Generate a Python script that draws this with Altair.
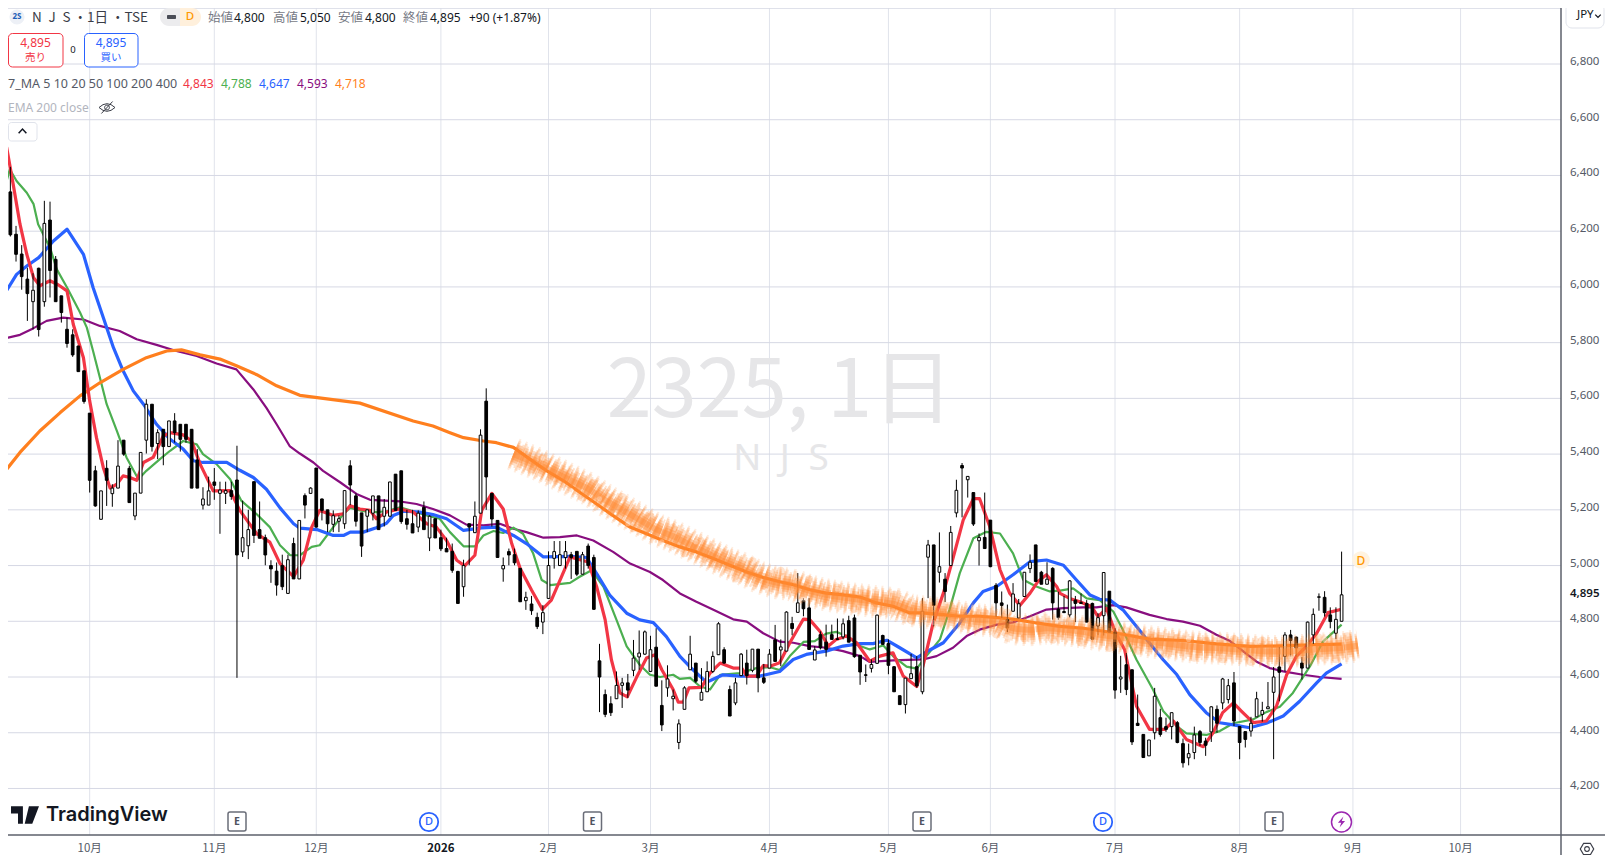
import altair as alt
import pandas as pd

# ---------- candles (bar 1 .. 237) ----------
highs = [6488,6431,6219,6150,6069,6049,6069,6309,6306,6111,
 5968,5890,5848,5788,5699,5547,5358,5268,5378,5292,
 5450,5450,5358,5260,5406,5597,5579,5489,5489,5519,
 5547,5507,5507,5489,5418,5281,5319,5350,5301,5301,
 5301,5430,5233,5200,5301,5230,5111,5019,5011,5039,
 5039,5100,5162,5259,5281,5350,5240,5200,5198,5180,
 5269,5378,5259,5189,5200,5250,5250,5239,5300,5328,
 5340,5200,5200,5198,5230,5180,5168,5129,5100,5079,
 4981,5021,5150,5230,5489,5636,5259,5162,5029,5061,
 5061,4990,4906,4891,4831,4858,5051,5088,5088,5088,
 5049,5051,5049,5079,5039,4719,4555,4531,4620,4597,
 4611,4733,4767,4767,4748,4775,4588,4642,4555,4448,
 4567,4748,4650,4632,4656,4692,4797,4707,4569,4597,
 4686,4698,4700,4700,4647,4700,4787,4735,4836,4816,
 4973,4883,4883,4711,4764,4788,4788,4810,4810,4820,
 4824,4678,4645,4663,4824,4752,4735,4639,4533,4596,
 4683,4675,4883,5092,5074,5119,4973,5142,5308,5368,
 5320,5262,5115,5262,5163,4937,4907,4860,4937,4880,
 4976,5040,5074,4981,5012,4994,4906,4891,4948,4891,
 4900,4876,4867,4829,4975,4908,4775,4676,4686,4626,
 4537,4394,4374,4561,4486,4454,4472,4442,4379,4361,
 4422,4410,4382,4495,4498,4597,4593,4618,4424,4404,
 4457,4547,4511,4582,4636,4707,4761,4769,4745,4672,
 4799,4846,4900,4908,4850,4850,5050]
body_tops = [6420,6341,6189,6118,6028,5988,6067,6228,6240,6099,
 5968,5848,5828,5788,5699,5547,5340,5268,5349,5278,
 5357,5450,5349,5260,5406,5579,5579,5477,5489,5519,
 5519,5507,5507,5489,5379,5239,5268,5300,5271,5269,
 5269,5307,5100,5129,5301,5129,5100,5000,4980,5000,
 5021,5079,5162,5251,5278,5350,5239,5200,5179,5168,
 5269,5358,5250,5189,5200,5250,5250,5209,5300,5328,
 5340,5168,5150,5188,5209,5177,5168,5100,5061,5051,
 4979,5000,5150,5177,5468,5590,5259,5162,5000,5050,
 5039,4990,4886,4862,4814,4831,5000,5050,5039,5050,
 5039,5051,5039,5070,5029,4658,4537,4504,4570,4579,
 4579,4668,4686,4762,4698,4707,4498,4593,4531,4432,
 4561,4682,4650,4545,4620,4674,4791,4698,4555,4579,
 4682,4650,4700,4700,4597,4682,4733,4708,4833,4792,
 4866,4874,4848,4697,4752,4725,4752,4737,4791,4802,
 4812,4678,4608,4645,4822,4749,4720,4637,4533,4596,
 4612,4637,4836,5074,5074,4996,4951,5119,5270,5359,
 5320,5262,5101,5101,5163,4929,4866,4806,4898,4863,
 4976,5012,5074,4976,4951,4990,4844,4835,4945,4876,
 4867,4864,4864,4813,4975,4908,4761,4600,4644,4626,
 4434,4394,4374,4531,4454,4422,4472,4436,4361,4325,
 4392,4404,4370,4493,4484,4593,4569,4579,4422,4404,
 4434,4522,4480,4493,4600,4636,4751,4751,4743,4650,
 4797,4825,4888,4886,4823,4807,4895]
body_bots = [6338,6187,6117,6037,5976,5947,5847,5947,6059,5947,
 5908,5797,5756,5696,5589,5306,5214,5166,5306,5258,
 5278,5400,5226,5178,5260,5450,5427,5438,5427,5427,
 5477,5453,5453,5278,5278,5217,5217,5288,5259,5259,
 5248,5038,5049,5071,5108,5098,5038,4988,4930,4924,
 4900,4952,4952,5217,5259,5138,5198,5150,5148,5159,
 5150,5289,5159,5070,5177,5188,5129,5177,5177,5198,
 5158,5148,5117,5138,5129,5099,5099,5060,5049,4983,
 4864,4924,5138,5118,5188,5318,5167,5029,4988,5038,
 5010,4870,4874,4838,4781,4797,4882,5026,5000,5029,
 5029,4969,4969,5000,4843,4600,4466,4472,4522,4570,
 4553,4624,4672,4682,4620,4567,4428,4561,4522,4365,
 4484,4626,4585,4517,4547,4620,4680,4650,4460,4507,
 4605,4605,4624,4597,4581,4632,4656,4697,4693,4774,
 4832,4845,4699,4661,4705,4699,4735,4735,4744,4725,
 4673,4618,4606,4631,4649,4717,4642,4547,4501,4501,
 4594,4568,4547,5030,4857,4976,4907,5000,5189,5350,
 5308,5149,5089,5061,4996,4866,4857,4776,4836,4812,
 4889,4989,4943,4933,4933,4866,4813,4831,4823,4864,
 4864,4797,4736,4783,4820,4761,4553,4593,4555,4367,
 4426,4311,4317,4400,4394,4412,4422,4365,4292,4310,
 4329,4365,4355,4403,4434,4507,4519,4442,4365,4376,
 4406,4457,4466,4486,4545,4617,4674,4731,4704,4632,
 4632,4751,4886,4831,4799,4757,4800]
lows = [6338,6181,6091,5990,5878,5848,5822,5929,5962,5947,
 5872,5782,5749,5696,5581,5262,5211,5166,5214,5211,
 5278,5394,5226,5163,5260,5402,5409,5382,5360,5427,
 5441,5409,5441,5278,5278,5201,5217,5236,5114,5221,
 5236,4597,5031,5023,5081,5098,5001,4938,4892,4912,
 4900,4952,4952,5169,5259,5136,5162,5120,5120,5120,
 5132,5217,5140,5031,5120,5162,5129,5140,5177,5198,
 5150,5129,5117,5120,5129,5052,5099,5052,5049,4974,
 4864,4888,5001,5118,5188,5200,5140,5029,4942,5001,
 5001,4870,4841,4823,4772,4754,4882,4989,5000,4989,
 4952,4962,4969,4989,4841,4474,4456,4460,4522,4489,
 4525,4603,4626,4680,4620,4567,4406,4529,4480,4341,
 4484,4626,4579,4517,4547,4614,4680,4648,4460,4499,
 4603,4573,4617,4545,4575,4632,4656,4639,4693,4750,
 4832,4818,4697,4661,4699,4673,4735,4735,4735,4725,
 4669,4572,4582,4616,4649,4717,4610,4547,4501,4469,
 4594,4562,4538,4883,4782,4939,4869,5000,5173,5173,
 5244,5142,5000,5061,4994,4816,4812,4761,4836,4810,
 4889,4973,4943,4933,4933,4806,4805,4831,4814,4797,
 4864,4797,4736,4751,4749,4761,4522,4543,4535,4356,
 4424,4311,4317,4376,4386,4403,4376,4362,4275,4283,
 4305,4353,4317,4367,4400,4484,4505,4424,4305,4347,
 4386,4457,4440,4486,4305,4513,4620,4674,4674,4591,
 4632,4719,4838,4817,4775,4736,4800]
hollow = [0,0,0,0,0,1,0,1,0,0, 0,0,0,0,0,0,0,1,0,1, 1,0,0,1,1,1,0,1,0,1,
 0,0,0,0,0,1,1,0,1,1, 0,0,1,1,0,0,0,0,0,0, 1,0,1,0,1,0,0,0,1,1,
 1,0,0,0,1,1,0,1,1,0, 0,0,0,1,0,1,0,0,0,0, 0,1,0,1,1,0,0,0,1,0,
 0,0,1,0,0,1,1,1,1,1, 0,0,1,0,0,0,0,0,1,1, 0,1,1,1,1,0,0,1,1,1,
 1,1,0,1,1,1,1,0,0,1, 1,0,1,0,0,1,0,1,1,0, 1,0,0,1,0,0,0,0,1,0,
 0,0,0,1,1,0,0,0,0,1, 1,0,1,1,0,1,0,1,1,0, 1,0,1,0,0,0,0,0,1,1,
 1,1,0,0,1,0,0,0,1,0, 0,0,0,1,1,0,0,1,0,0, 0,0,1,1,0,0,1,0,0,1,
 1,0,0,1,0,1,1,0,0,0, 1,1,1,1,1,0,1,0,0,0, 1,1,1,0,0,1,1]

# ---------- moving averages (bar position, price) ----------
ma5_bar = [0.2,1.35,2.5,3.7,4.9,6.1,7.2,9,10.5,12,13.1,14.9,16,17.2,18.4,19.6,20.8,21.9,23.1,24.3,25.5,27.2,29,30.2,32.5,34,35.5,37.8,40.8,42.5,45.5,47.8,49.6,52,53.7,55.2,56.6,59,60.8,62,63.7,65.5,66.6,68.4,70.8,73.1,75.5,77.2,79,80.8,82.2,84,85.2,87,89,90.5,92,94,95.9,97.5,99.3,100.8,104,105.5,107,108.1,109.6,110.9,112.5,114.3,115.8,117,119,119.9,120.8,121.8,124,125.5,127.3,129.6,131.1,132,133.7,134.9,136.1,137.8,139.6,142,143.1,144.9,146.4,147.8,149.6,151.4,153.7,155.5,157.8,159.6,162,163.1,164.9,166.7,168.4,170.2,172,173.1,174.9,176.7,178.4,180.2,182,183.4,184.9,186.7,187.3,189,190.8,192.9,194,195.5,197,198.7,200.8,203.1,205.8,207.3,209.6,212.6,214.3,216,217.9,219.3,221.4,223.7,225.5,227.3,229,230.8,232.6,234.6,237]
ma5_val = [6542,6500,6368,6225,6117,6033,6004,6022,6007,5986,5866,5746,5591,5459,5352,5278,5292,5322,5316,5306,5370,5388,5465,5477,5469,5447,5364,5268,5269,5198,5114,5084,5007,4960,5019,5138,5198,5180,5186,5215,5203,5198,5168,5192,5203,5192,5150,5138,5090,5019,4999,5037,5198,5259,5203,5079,4989,4912,4843,4876,4960,5031,5013,4924,4805,4662,4543,4529,4597,4668,4680,4626,4555,4510,4510,4561,4563,4614,4650,4632,4632,4603,4603,4641,4639,4651,4723,4808,4806,4764,4711,4735,4747,4723,4657,4675,4687,4604,4566,4639,4794,4901,5026,5163,5240,5240,5139,4985,4901,4857,4901,4943,4967,4925,4900,4882,4870,4852,4817,4846,4763,4698,4495,4412,4412,4442,4376,4350,4400,4472,4507,4478,4436,4442,4495,4608,4674,4710,4757,4831,4843]

ma10_bar = [0.2,1,1.9,3.1,4.9,6.1,6.9,9,10.2,12,14.3,15.5,16.6,17.8,19,20.8,22.5,24.6,26,28.4,30.2,32.5,34.9,36,38.4,40.8,42.8,45.5,47.8,49.6,51.4,53.1,55.2,56.6,59,60.8,62,64.3,66.6,68.4,70.8,73.1,75.5,77.8,79.6,82,84,85.5,87.3,89,90.8,92.5,94.3,95.8,97.3,100.8,102.5,104.6,106.7,109,110.8,113.1,114.9,116.7,119,120.2,122,123.7,125.5,127.3,130.8,133.7,136.1,137.8,139.6,142,144,146,147.8,149.6,152,153.7,156.1,157.8,160.2,162,163.7,166.1,167.8,169.6,172,174.3,176.7,179,180.8,183.1,185.5,187.3,189.6,192,194.3,196.7,198.4,200.8,203.7,205.5,207.9,209.6,213.1,215.5,217.9,221.4,223.7,226.1,228.4,231.4,233.7,237]
ma10_val = [6273,6356,6422,6380,6338,6297,6225,6141,6063,5998,5908,5854,5770,5675,5579,5483,5388,5310,5340,5382,5412,5447,5435,5400,5364,5310,5232,5184,5138,5073,5037,5037,5067,5073,5138,5186,5207,5195,5192,5195,5209,5195,5180,5168,5120,5069,5069,5108,5124,5117,5136,5114,5043,4948,4930,4938,4960,4983,4924,4805,4710,4644,4608,4600,4608,4593,4597,4567,4555,4608,4614,4632,4635,4625,4675,4726,4729,4756,4762,4747,4711,4699,4713,4675,4637,4630,4675,4735,4842,4973,5098,5121,5115,5044,4949,4925,4907,4910,4918,4882,4876,4835,4769,4662,4555,4478,4424,4398,4392,4406,4434,4448,4474,4493,4543,4638,4727,4788]

ma20_bar = [0.2,3.1,4.9,7,9.6,12,14.9,16.6,18.4,20.2,21.9,23.7,25.5,27.8,30.2,32.5,34.3,36,40.2,42.5,44.9,47.2,49.6,52,53.1,56.1,59,60.8,62,64.3,66.6,68.4,69.6,71.4,74.3,76.6,79,82,85.2,87.8,90.8,93.1,96.1,100.8,103.7,105.5,107.8,110.8,113.1,115.5,117.8,120.2,122.5,124.9,127.8,130.8,134.3,137.8,140.2,142.5,146,149,152,154.3,156.7,159,162,164.3,166.7,169.6,172,173.7,176.1,179,182,184.9,187.9,190.2,192.6,194.3,196.1,198.4,200.8,203.1,205.5,207.9,210.2,213.1,215.5,217.9,220.8,223.7,226.7,229.6,232.6,234.3,237]
ma20_val = [5950,6045,6075,6105,6165,6207,6117,5998,5890,5782,5699,5627,5579,5507,5453,5418,5376,5370,5370,5342,5316,5274,5207,5150,5134,5129,5108,5108,5120,5120,5136,5152,5180,5195,5192,5183,5168,5126,5135,5138,5108,5079,5031,5033,5029,4971,4894,4829,4805,4795,4745,4674,4626,4581,4608,4603,4603,4620,4663,4681,4693,4711,4720,4720,4732,4705,4669,4697,4723,4794,4866,4907,4925,4967,5014,5020,5001,4948,4894,4879,4876,4841,4781,4722,4662,4609,4537,4472,4436,4428,4418,4434,4460,4513,4579,4614,4647]

ma50_bar = [0.2,1.6,3.7,6.1,8.4,11.3,14.9,17.8,21.3,24.3,27.8,31.3,34.9,38.4,41.9,44.9,47.2,49,51.3,53.1,55.5,57.2,60.2,63.1,65.5,70.8,73.7,76.6,79.6,82.5,85.5,88.4,90.8,93.1,96.1,99,102,104.9,108.4,111.4,114.9,117.2,120.2,123.1,126.1,129.6,132,134.9,137.8,140.2,143.1,146,149,152,153.7,157.8,163.1,165.5,168.4,170.8,173.1,176.1,179,182,184.9,187.9,191.4,193.7,196.7,199,203.1,206.1,209,212,214.9,217.3,219.6,222,224.3,226.7,230.2,233.1,237]
ma50_val = [5806,5818,5828,5852,5878,5890,5883,5860,5842,5812,5792,5770,5752,5725,5704,5632,5566,5507,5429,5402,5370,5340,5299,5257,5236,5230,5221,5203,5180,5147,5144,5150,5132,5120,5100,5102,5108,5090,5049,5007,4977,4948,4900,4870,4841,4807,4799,4757,4727,4723,4711,4705,4693,4675,4654,4660,4663,4675,4705,4747,4770,4788,4796,4818,4842,4847,4850,4850,4858,4850,4823,4808,4799,4784,4752,4729,4693,4655,4632,4620,4608,4600,4593]

ma100_bar = [0.2,3.7,7.2,10.8,14.3,17.8,21.9,26,29.6,32.2,35.5,39,41.9,45.5,49,53.1,63.7,73.1,76.6,79.6,82,85.5,87.8,90.8,93.7,96.7,99.6,102.5,105.5,108.4,111.4,114.3,117.2,120.2,123.1,126.1,129,132,134.9,137.8,140.2,143.1,146,149,152,154.9,157.8,160.8,163.1,166.7,169.6,173.1,176.7,179.6,183.1,187.2,191.4,197.3,203.1,209,214.9,220.8,226.7,232.6,237]
ma100_val = [5316,5406,5483,5549,5609,5656,5704,5746,5770,5774,5756,5741,5717,5685,5645,5611,5583,5519,5501,5477,5459,5447,5441,5424,5382,5340,5305,5263,5221,5179,5138,5114,5090,5067,5049,5025,5001,4977,4957,4942,4931,4913,4901,4895,4887,4866,4854,4830,4830,4824,4818,4818,4812,4806,4794,4782,4775,4757,4736,4731,4719,4710,4712,4716,4718]

# ---------- brush stroke traced over the long average ----------
brush_bar = [90.8,92,95,98,101,104,107,110,113,116,119,122,125,128,131,134,137,140,143,146,149,152,155,158,161,164,167,170,173,176,179,182,185,188,191,194,197,200,203,206,209,212,215,218,221,224,227,230,233,236,239.9]
brush_val = [5400,5390,5365,5335,5305,5275,5235,5200,5165,5130,5105,5075,5045,5015,4990,4960,4940,4930,4910,4895,4885,4877,4870,4862,4840,4832,4825,4815,4805,4800,4775,4770,4775,4770,4763,4752,4745,4735,4727,4720,4712,4706,4704,4700,4696,4692,4692,4695,4700,4703,4712]
speck_bar = [92,94,96,98,100,103,105,108,110,112,115,117,119,121,124,126,128,130,133,135,138,141,143,146,148,151,153,156,158,161,163,166,168,171,174,176,178,181,183,186,189,191,194,196,199,201,204,206,208,211,213,216,218,221,223,226,228,231,233,236,238]
speck_val = [5415,5345,5385,5315,5325,5245,5295,5195,5245,5135,5175,5095,5135,5045,5085,5005,5045,4955,5015,4930,4980,4895,4950,4865,4920,4845,4900,4835,4895,4805,4860,4795,4855,4785,4830,4755,4830,4740,4805,4735,4800,4725,4780,4705,4765,4695,4745,4685,4740,4670,4730,4665,4735,4655,4730,4655,4725,4660,4740,4665,4745]
gap_bar = [96,101,106,111,117,123,129,134,142,148,154,160,165,172,178,187,193,199,205,210,216,222,228,234]
gap_val = [5385,5270,5240,5150,5085,5085,4975,4985,4880,4915,4850,4885,4795,4850,4745,4805,4715,4770,4690,4735,4675,4725,4670,4735]

# ---------- axes ----------
month_bars = [16,38,56,78,97,115,136,157,175,197,219,239,258]
month_names = ["10月","11月","12月","2026","2月","3月","4月","5月","6月","7月","8月","9月","10月"]
price_ticks = [4200,4400,4600,4800,5000,5200,5400,5600,5800,6000,6200,6400,6600,6800]
last_price = 4895

FONT = "Noto Sans, Noto Sans CJK JP, sans-serif"
JP = "Noto Sans CJK JP, Noto Sans, sans-serif"
W, H = 1553, 827

xs = alt.Scale(domain=[1.5825, 275.73], nice=False, zero=False, padding=0)
ys = alt.Scale(domain=[4033, 7001], nice=False, zero=False)

bars = pd.DataFrame({"n": list(range(1, len(highs) + 1)), "h": highs, "t": body_tops,
                     "b": body_bots, "l": lows, "up": hollow})
bars["fill"] = bars["up"].map({1: "#ffffff", 0: "#000000"})


def series(b, v):
    return pd.DataFrame({"n": b, "p": v})


X = alt.X("n:Q", scale=xs, axis=None)
Y = alt.Y("p:Q", scale=ys, axis=None)
one = alt.Data(values=[{"a": 1}])


def px(v):
    return alt.value(v - 8)


months = pd.DataFrame({"n": month_bars, "lab": month_names})
ticks = pd.DataFrame({"p": price_ticks + [7000],
                      "lab": [f"{v:,}" for v in price_ticks] + [""]})
grid_v = alt.Chart(months).mark_rule(color="#e0e3eb", strokeWidth=1).encode(x=X)
grid_h = alt.Chart(ticks).mark_rule(color="#d6d8e4", strokeWidth=1).encode(y=Y)
x_labels = alt.Chart(months[months.lab != "2026"]).mark_text(
    color="#555a66", fontSize=11.5, font=JP, baseline="middle").encode(x=X, y=px(849), text="lab:N")
x_year = alt.Chart(months[months.lab == "2026"]).mark_text(
    color="#131722", fontSize=11.5, fontWeight=600, font=JP, baseline="middle").encode(x=X, y=px(849), text="lab:N")
y_labels = alt.Chart(ticks).mark_text(
    color="#555a66", fontSize=11.5, font=FONT, align="left", baseline="middle", dy=-2).encode(
    x=px(1570), y=Y, text="lab:N")


def ma(b, v, color, w):
    return alt.Chart(series(b, v)).mark_line(color=color, strokeWidth=w, clip=True,
                                             strokeJoin="round").encode(x=X, y=Y)


lines = [ma(ma50_bar, ma50_val, "#880e7f", 2.2), ma(ma10_bar, ma10_val, "#4caf50", 2.2),
         ma(ma20_bar, ma20_val, "#2962ff", 3.2), ma(ma100_bar, ma100_val, "#ff7f1e", 3.2),
         ma(ma5_bar, ma5_val, "#f23645", 3.2)]

wicks = alt.Chart(bars).mark_rule(color="#000000", strokeWidth=1, clip=True).encode(
    x=X, y=alt.Y("h:Q", scale=ys, axis=None), y2="l:Q")
bodies = alt.Chart(bars).mark_bar(size=2.7, stroke="#000000", strokeWidth=1, clip=True).encode(
    x=X, y=alt.Y("t:Q", scale=ys, axis=None), y2="b:Q",
    fill=alt.Fill("fill:N", scale=None))

brush_df = series(brush_bar, brush_val)
brush = [alt.Chart(brush_df).mark_line(color="#ff8a33", strokeWidth=w, opacity=o, strokeCap="butt",
                                       strokeDash=d, interpolate="monotone").encode(x=X, y=Y)
         for w, o, d in [(33, 0.16, [2, 5]), (29, 0.20, [3, 4]), (25, 0.24, [2, 3]), (21, 0.28, [5, 3]),
                         (16, 0.34, [7, 3]), (11, 0.40, [11, 2]), (6, 0.45, [30, 1])]]
specks = alt.Chart(series(speck_bar, speck_val)).mark_circle(color="#ff8a33", opacity=0.22, size=75).encode(x=X, y=Y)
gaps = alt.Chart(series(gap_bar, gap_val)).mark_circle(color="#ffffff", opacity=0.30, size=26).encode(x=X, y=Y)


def txt(x, y, s, color="#131722", size=12, weight=400, align="left", font=FONT, opacity=1.0):
    return alt.Chart(one).mark_text(text=s, color=color, fontSize=size, fontWeight=weight, align=align,
                                    baseline="middle", font=font, opacity=opacity).encode(x=px(x), y=px(y))


def box(x0, x1, y0, y1, fill="#ffffff", stroke=None, r=0, sw=1, **kw):
    opts = dict(fill=fill, cornerRadius=r, **kw)
    if stroke:
        opts.update(stroke=stroke, strokeWidth=sw)
    return alt.Chart(one).mark_rect(**opts).encode(x=px(x0), x2=px(x1), y=px(y0), y2=px(y1))


def sym(x, y, path, size, fill=None, stroke=None, sw=1.2):
    opts = dict(shape=path, size=size, opacity=1)
    if fill:
        opts.update(filled=True, fill=fill)
        if stroke:
            opts.update(stroke=stroke, strokeWidth=sw)
        else:
            opts.update(strokeWidth=0)
    else:
        opts.update(filled=False, stroke=stroke, strokeWidth=sw)
    return alt.Chart(one).mark_point(**opts).encode(x=px(x), y=px(y))


def dot(x, y, size, fill=None, stroke=None, sw=1.5):
    return sym(x, y, "circle", size, fill=fill, stroke=stroke, sw=sw)


frame = [
    alt.Chart(one).mark_rule(color="#5d606b", strokeWidth=1.5).encode(x=alt.value(0), x2=alt.value(1605), y=px(835)),
    alt.Chart(one).mark_rule(color="#5d606b", strokeWidth=1.5).encode(x=px(1561), y=alt.value(0), y2=alt.value(847)),
]

watermark = [
    txt(780, 393, "2325, 1日", "#e6e6e8", 81, align="center", font=JP),
    txt(781, 459, "N\u2002J\u2002S", "#e6e6e8", 37, align="center", font=FONT),
]

header = [
    dot(17, 17, 230, fill="#edf0f6"),
    txt(17, 17, "2S", "#1d5fb8", 8, 700, "center"),
    txt(32, 18, "N\u2002J\u2002S ・1日 ・TSE", "#3a3d47", 13.5, font=JP),
    box(160, 181, 8, 26, fill="#ececee", cornerRadiusTopLeft=9, cornerRadiusBottomLeft=9),
    box(180, 201, 8, 26, fill="#fff0dc", cornerRadiusTopRight=9, cornerRadiusBottomRight=9),
    box(167, 176, 15, 19, fill="#4a4d57", r=1),
    txt(190, 17, "D", "#ff9800", 11.5, 500, "center"),
]
for xl, lab, xv, val in [(208, "始値", 234, "4,800"), (273, "高値", 300, "5,050"),
                         (338, "安値", 365, "4,800"), (403, "終値", 430, "4,895")]:
    header += [txt(xl, 18, lab, "#787b86", 12.5, font=JP), txt(xv, 17.5, val, "#131722", 12)]
header += [txt(469, 17.5, "+90 (+1.87%)", "#131722", 12)]

trade = [
    box(8.5, 63, 33.5, 67, stroke="#f23645", r=4),
    txt(35.5, 42.5, "4,895", "#f23645", 12, align="center"),
    txt(35.5, 58, "売り", "#f23645", 10.5, align="center", font=JP),
    txt(73, 50, "0", "#131722", 9.5, align="center"),
    box(84.5, 138, 33.5, 67, stroke="#2962ff", r=4),
    txt(111, 42.5, "4,895", "#2962ff", 12, align="center"),
    txt(111, 58, "買い", "#2962ff", 10.5, align="center", font=JP),
]

legend = [txt(8, 84, "7_MA 5 10 20 50 100 200 400", "#555a66", 12.5)]
for xv, val, col in [(183, "4,843", "#f23645"), (221, "4,788", "#4caf50"), (259, "4,647", "#2962ff"),
                     (297, "4,593", "#880e7f"), (335, "4,718", "#ff7f1e")]:
    legend.append(txt(xv, 84, val, col, 12))
legend += [
    txt(8, 107.5, "EMA 200 close", "#b2b5be", 12),
    sym(107, 107.5, "M-1,0 Q0,-0.95 1,0 Q0,0.95 -1,0 Z M-0.7,0.75 L0.7,-0.75 M-0.3,0 A0.3,0.3 0 1 1 0.3,0 A0.3,0.3 0 1 1 -0.3,0",
        256, stroke="#3a3d47", sw=1),
    box(8.5, 37, 122.5, 141, stroke="#e0e3eb", r=3),
    sym(22.5, 131, "M-1,0.6 L0,-0.5 L1,0.6", 60, stroke="#131722", sw=1.5),
]

logo = [
    sym(25, 815, "M-1,-0.62 H-0.15 V0.62 H-0.5 V-0.1 H-1 Z M0.28,-0.62 H1 L0.52,0.62 H-0.02 Z M-0.02,-0.62 A0.1,0.1 0 0 1 0.0,-0.62 Z",
        28 * 28, fill="#131722"),
    txt(46, 815, "TradingView", "#131722", 20, 600, font="Inter"),
]

events = []
for ex in [237, 592.5, 922, 1274]:
    events += [box(ex - 9, ex + 9, 812, 831, stroke="#6a6d78", r=2, sw=1.5),
               txt(ex, 822, "E", "#50535e", 10.5, 700, "center")]
for ex in [429, 1103]:
    events += [dot(ex, 822, 340, fill="#ffffff", stroke="#2962ff", sw=1.8),
               txt(ex, 822, "D", "#2962ff", 11, 500, "center")]
events += [
    dot(1341.5, 822, 400, fill="#ffffff", stroke="#9c27b0", sw=1.5),
    sym(1341.5, 822, "M0.35,-1 L-0.65,0.15 H-0.05 L-0.35,1 L0.65,-0.2 H0.05 Z", 120, fill="#9c27b0"),
    dot(1361, 560, 310, fill="#fff3e0"),
    txt(1361, 560.5, "D", "#ff9800", 12, 500, "center"),
]

right = [
    alt.Chart(pd.DataFrame({"p": [last_price]})).mark_text(
        text="4,895", color="#131722", fontSize=11.5, fontWeight=600, align="left", baseline="middle",
        font=FONT, dy=-1).encode(x=px(1570), y=Y),
    box(1566, 1604, 3.5, 28, stroke="#e0e3eb", r=6),
    txt(1577, 15, "JPY", "#131722", 11.5),
    sym(1598, 16, "M-1,-0.5 L0,0.5 L1,-0.5", 30, stroke="#131722", sw=1.3),
    sym(1587, 849, "M-0.5,-0.85 H0.5 L1,0 L0.5,0.85 H-0.5 L-1,0 Z", 180, stroke="#3a3d47", sw=1.2),
    dot(1587, 849, 22, stroke="#3a3d47", sw=1.1),
]

chart = alt.layer(
    grid_v, grid_h, x_labels, x_year, y_labels, *frame, *watermark, *lines, wicks, bodies,
    *brush, specks, gaps, *header, *trade, *legend, *logo, *events, *right
).properties(
    width=W, height=H,
    autosize=alt.AutoSizeParams(type="none"),
    padding={"left": 0, "top": 0, "right": 44, "bottom": 20},
    background="#ffffff",
).configure_view(stroke=None)

chart.save("out.html", embed_options={"renderer": "svg", "actions": False})
